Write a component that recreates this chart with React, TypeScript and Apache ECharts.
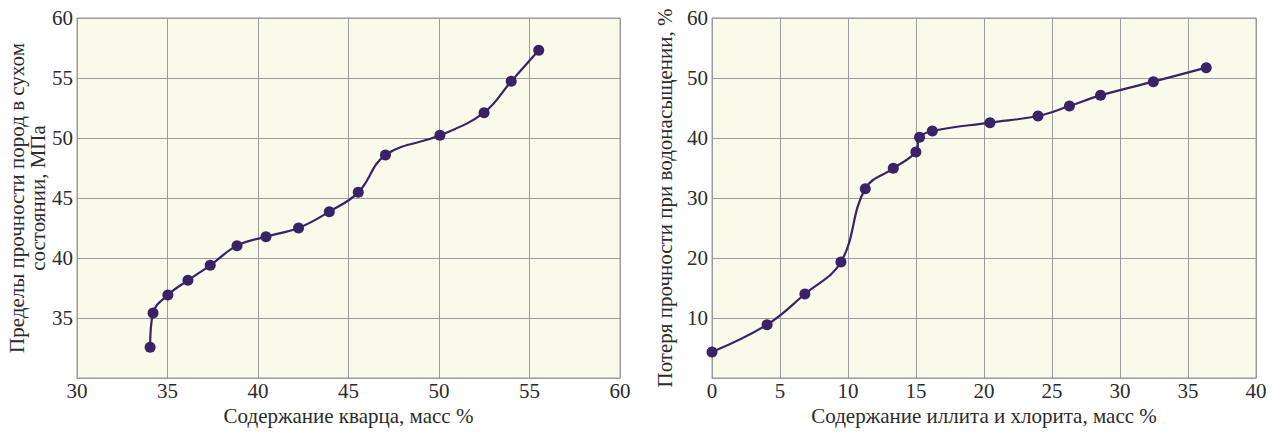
import React, { useEffect, useRef } from "react";
import * as echarts from "echarts";

const quartzX = [34.04, 34.2, 35.02, 36.13, 37.36, 38.84, 40.44, 42.24, 43.94, 45.54, 47.04, 50.05, 52.49, 53.99, 55.51];
const strengthDry = [32.56, 35.42, 36.92, 38.14, 39.39, 41.03, 41.78, 42.5, 43.86, 45.47, 48.58, 50.22, 52.11, 54.72, 57.31];

const clayX = [0, 4.05, 6.83, 9.48, 11.27, 13.33, 14.99, 15.26, 16.2, 20.44, 23.97, 26.28, 28.57, 32.45, 36.34];
const strengthLoss = [4.33, 8.89, 14.0, 19.33, 31.56, 34.94, 37.67, 40.11, 41.17, 42.56, 43.67, 45.33, 47.11, 49.39, 51.72];

const leftXName = "Содержание кварца, масс %";
const leftYName = "Пределы прочности пород в сухом\nсостоянии, МПа";
const rightXName = "Содержание иллита и хлорита, масс %";
const rightYName = "Потеря прочности при водонасыщении, %";

const FONT = "Liberation Serif";
const TXT = "#2b2b2b";
const GRIDC = "#9c9c9c";
const LINEC = "#3a2268";

export default function App() {
  const ref = useRef<HTMLDivElement>(null);
  useEffect(() => {
    if (!ref.current) return;
    const chart = echarts.init(ref.current, undefined, { renderer: "svg" });
    const xLabel = { color: TXT, fontFamily: FONT, fontSize: 21, margin: 2 };
    const yLabel = { color: TXT, fontFamily: FONT, fontSize: 21, margin: 4, showMinLabel: false };
    const nameStyle = { color: TXT, fontFamily: FONT, fontSize: 21, lineHeight: 21, width: 600, overflow: "none" };
    const splitLine = { show: true, lineStyle: { color: GRIDC, width: 1 } };
    const axisLine = { show: true, lineStyle: { color: GRIDC, width: 1 } };
    const gridBase = { show: true, backgroundColor: "#fafaea", borderColor: GRIDC, borderWidth: 1, containLabel: false };
    chart.setOption({
      animation: false,
      backgroundColor: "#ffffff",
      textStyle: { fontFamily: FONT },
      grid: [
        { ...gridBase, left: 77, right: 655, top: 18, bottom: 54 },
        { ...gridBase, left: 712, right: 19, top: 18, bottom: 54 },
      ],
      xAxis: [
        {
          type: "value", gridIndex: 0, min: 30, max: 60, interval: 5,
          name: leftXName, nameLocation: "middle", nameGap: 25, nameTextStyle: nameStyle,
          axisLabel: xLabel, splitLine, axisLine, axisTick: { show: false },
        },
        {
          type: "value", gridIndex: 1, min: 0, max: 40, interval: 5,
          name: rightXName, nameLocation: "middle", nameGap: 25, nameTextStyle: nameStyle,
          axisLabel: xLabel, splitLine, axisLine, axisTick: { show: false },
        },
      ],
      yAxis: [
        {
          type: "value", gridIndex: 0, min: 30, max: 60, interval: 5,
          name: leftYName, nameLocation: "middle", nameGap: 26, nameTextStyle: nameStyle,
          axisLabel: yLabel, splitLine, axisLine, axisTick: { show: false },
        },
        {
          type: "value", gridIndex: 1, min: 0, max: 60, interval: 10,
          name: rightYName, nameLocation: "middle", nameGap: 37, nameTextStyle: nameStyle,
          axisLabel: yLabel, splitLine, axisLine, axisTick: { show: false },
        },
      ],
      series: [
        {
          type: "line", xAxisIndex: 0, yAxisIndex: 0, smooth: 0.4,
          data: quartzX.map((x, i) => [x, strengthDry[i]]),
          symbol: "circle", symbolSize: 11,
          lineStyle: { color: LINEC, width: 2.2 }, itemStyle: { color: LINEC },
        },
        {
          type: "line", xAxisIndex: 1, yAxisIndex: 1, smooth: 0.4,
          data: clayX.map((x, i) => [x, strengthLoss[i]]),
          symbol: "circle", symbolSize: 11,
          lineStyle: { color: LINEC, width: 2.2 }, itemStyle: { color: LINEC },
        },
      ],
    });
    return () => chart.dispose();
  }, []);
  return <div ref={ref} style={{ width: 1275, height: 432, position: "absolute", left: 0, top: 0 }} />;
}
